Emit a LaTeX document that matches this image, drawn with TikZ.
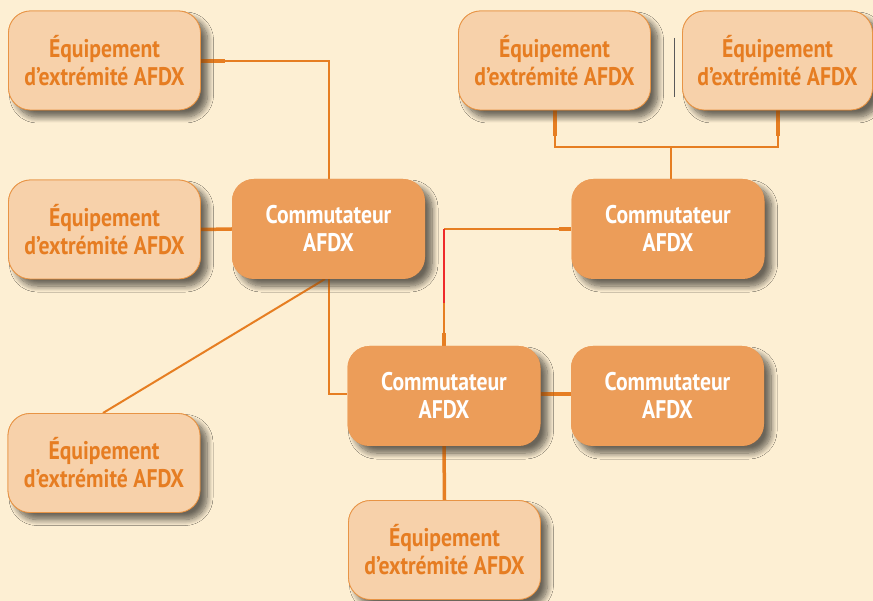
\documentclass[tikz,border=0pt]{standalone}
\usepackage{fontspec}
\setmainfont{PT Sans}[FakeStretch=0.85]
\usetikzlibrary{shadows.blur,calc}
\definecolor{bgc}{HTML}{FDEFD3}
\definecolor{peach}{HTML}{F7D1AA}
\definecolor{swfill}{HTML}{EC9D59}
\definecolor{ortxt}{HTML}{E67D22}
\definecolor{orline}{HTML}{E67E22}
\definecolor{edgec}{HTML}{E89445}
\definecolor{redl}{HTML}{EE2A2A}
\tikzset{
  x=1pt, y=-1pt,
  boxshadow/.style={blur shadow={shadow xshift=7pt, shadow yshift=-7pt, shadow blur radius=6pt, shadow blur steps=10, shadow opacity=35}},
  endbox/.style={draw=edgec, line width=0.8pt, fill=peach, rounded corners=22pt, minimum width=192pt, minimum height=99pt, align=center, text=ortxt, font=\bfseries\fontsize{25.5}{28}\selectfont, inner sep=0pt, boxshadow},
  swbox/.style={fill=swfill, rounded corners=22pt, minimum width=193pt, minimum height=100pt, align=center, text=white, font=\bfseries\fontsize{25.5}{28}\selectfont, inner sep=0pt, boxshadow},
  link/.style={draw=orline, line width=2pt},
  stub/.style={draw=orline, line width=3.5pt},
}
\begin{document}
\begin{tikzpicture}
\fill[bgc] (0,0) rectangle (873,601);
\useasboundingbox (0,0) rectangle (873,601);

\coordinate (k1) at (329,61);
\coordinate (k3) at (444,229);
\coordinate (kr) at (444,303);
\coordinate (k5) at (329,394);
\coordinate (bl) at (555,147);
\coordinate (br) at (778,147);
\coordinate (bm) at (671,147);

\node[endbox] (E1) at (104.5,60.5) {Équipement\\d’extrémité AFDX};
\node[endbox] (E2) at (104.5,229.5) {Équipement\\d’extrémité AFDX};
\node[swbox] (S1) at (328.5,229) {Commutateur\\AFDX};
\node[endbox] (E3) at (554.5,60.5) {Équipement\\d’extrémité AFDX};
\node[endbox, minimum width=190pt] (E4) at (777.5,60.5) {Équipement\\d’extrémité AFDX};
\node[swbox] (S2) at (668,229) {Commutateur\\AFDX};
\node[swbox] (S3) at (444,396) {Commutateur\\AFDX};
\node[swbox] (S4) at (667.5,396) {Commutateur\\AFDX};
\node[endbox] (E5) at (104,463) {Équipement\\d’extrémité AFDX};
\node[endbox] (E6) at (444.5,550) {Équipement\\d’extrémité AFDX};

% E1 - S1
\draw[link] (E1.east |- k1) -- (k1) -- (S1.north -| k1);
\draw[stub] (E1.east |- k1) -- ++(24,0);
% E2 - S1
\draw[stub] (E2.east) -- (S1.west);
% S1 - E5 (diagonal)
\coordinate (d1) at (325,279);
\coordinate (d2) at (103,413);
\draw[link] (d1) -- (d2);
% S1 - S3
\draw[link] (S1.south -| k5) -- (k5) -- (S3.west |- k5);
% S2 - S3 (red section)
\draw[link] (S2.west) -- (k3);
\draw[draw=redl, line width=2pt] (k3) -- (kr);
\draw[link] (kr) -- (S3.north);
\draw[stub] (S2.west) -- ++(-12,0);
\draw[stub] (S3.north) -- ++(0,-13);
% S3 - S4
\draw[stub] (S3.east |- k5) -- (S4.west |- k5);
% S3 - E6
\draw[stub] (S3.south) -- (E6.north);
% E3/E4 - S2
\draw[link] (E3.south -| bl) -- (bl) -- (br) -- (E4.south -| br);
\draw[link] (bm) -- (S2.north -| bm);
\draw[stub] (E3.south -| bl) -- ++(0,26);
\draw[stub] (E4.south -| br) -- ++(0,26);
% thin gray mark
\coordinate (g1) at (674,38);
\coordinate (g2) at (674,97);
\draw[gray!70!black, line width=0.6pt] (g1) -- (g2);

% redraw boxes on top of connectors
\node[endbox] at (E1) {Équipement\\d’extrémité AFDX};
\node[endbox] at (E2) {Équipement\\d’extrémité AFDX};
\node[swbox] at (S1) {Commutateur\\AFDX};
\node[endbox] at (E3) {Équipement\\d’extrémité AFDX};
\node[endbox, minimum width=190pt] at (E4) {Équipement\\d’extrémité AFDX};
\node[swbox] at (S2) {Commutateur\\AFDX};
\node[swbox] at (S3) {Commutateur\\AFDX};
\node[swbox] at (S4) {Commutateur\\AFDX};
\node[endbox] at (E5) {Équipement\\d’extrémité AFDX};
\node[endbox] at (E6) {Équipement\\d’extrémité AFDX};
\end{tikzpicture}
\end{document}
